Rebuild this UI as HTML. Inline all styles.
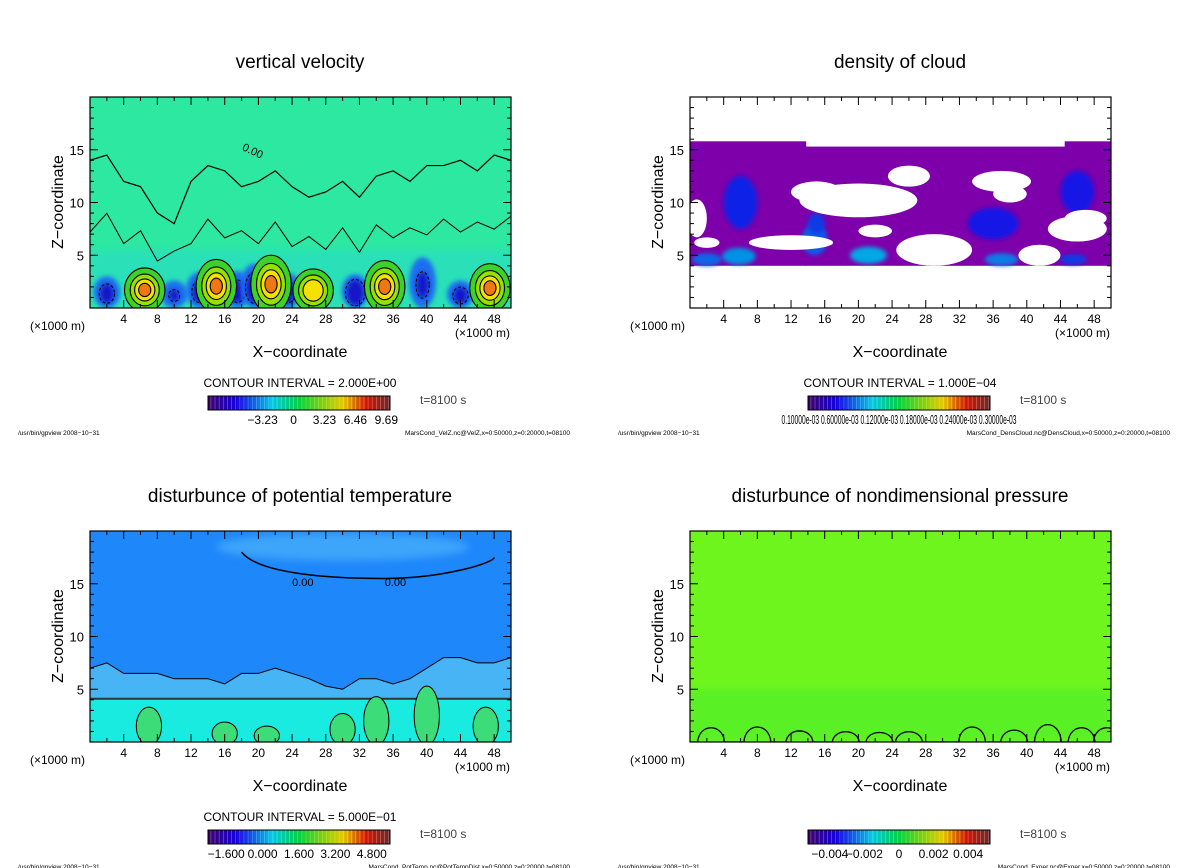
<!DOCTYPE html>
<html><head><meta charset="utf-8">
<style>
html,body{margin:0;padding:0;background:#fff;}
svg{display:block;font-family:"Liberation Sans","DejaVu Sans",sans-serif;}
</style></head>
<body>
<svg id="fig" width="1200" height="868" viewBox="0 0 1200 868"></svg>
<script>
// ---------- data ----------
const xTicks = [4,8,12,16,20,24,28,32,36,40,44,48];
const zTicks = [5,10,15];
// vertical velocity: updraft cores
const upX = [6.5,15,21.5,26.5,35,47.5];
const upTop = [3.8,4.6,5.0,3.7,4.5,4.2];
const upAmp = [0.8,1.0,0.9,0.75,0.9,0.9];
// downdraft cores
const downX = [2,10,13,17.5,19.5,23.5,31.5,39.5,44];
const downTop = [3,2.6,3.4,3.5,4.2,3.3,3.2,4.8,2.6];
const downAmp = [0.7,0.5,0.7,0.7,0.8,0.7,0.9,0.6,0.7];
// zero contour envelope of turbulent layer
const envX = [0,2,4,6,8,10,12,14,16,18,20,22,24,26,28,30,32,34,36,38,40,42,44,46,48,50];
const envZ = [14,14.5,12,11.5,9,8,12,13.5,13,11.5,12,13,11.5,10.5,11,12,10.5,12.5,13,12,13.5,13.5,14,13,14.5,14];
// cloud density: gaps in cloud layer (x, z, rx, rz)
const holeX = [0.8,20,15,37,38,46,47,12,29,41.5,26,2,22];
const holeZ = [8.5,10.2,11,12,10.8,7.5,8.5,6.2,5.5,5,12.5,6.2,7.3];
const holeRX = [1.2,7,3,3.5,2,3.5,2.5,5,4.5,2.5,2.5,1.5,2];
const holeRZ = [1.8,1.6,1,1,0.8,1.2,0.8,0.7,1.5,1,1,0.5,0.6];
// dense cloud patches (x, z, rx, rz, intensity)
const patchX = [2,5.8,14.8,21.2,37,45.5,6,46,36,15];
const patchZ = [4.6,4.9,6.5,5,4.6,4.6,10,11,8,8];
const patchRX = [1.8,2,1.5,2.2,2,1.6,2,2,3,1];
const patchRZ = [0.6,0.8,1.5,0.8,0.6,0.5,2.5,2,1.5,1];
const patchI = [0.6,0.8,0.55,0.9,0.7,0.4,0.3,0.25,0.25,0.4];
// potential temperature: boundary of disturbed layer
const ptX = [0,2,4,6,8,10,12,14,16,18,20,22,24,26,28,30,32,34,36,38,40,42,44,46,48,50];
const ptZ = [7,7.5,6.5,6.5,6.5,6,6,6,5.5,6.5,6.5,7,6.5,6,5.3,5,6,6,5.5,6,7,8,8,7.5,7.5,8];
const ptGreenX = [7,16,21,30,34,40,47];
const ptGreenZ = [1.5,0.8,0.6,1.2,2,2.5,1.5];
// nondimensional pressure: bottom bumps
const prX = [2.5,8,13,18.5,22.5,26,33.5,38.5,42.5,46.5,49.5];
const prH = [1.8,1.9,1.4,1.3,1.2,1.3,1.9,1.5,2.2,1.8,1.8];
// colorbar labels
const cb1Labels = ["\u22123.23","0","3.23","6.46","9.69"];
const cb2Labels = ["0.10000e-03 0.60000e-03 0.12000e-03 0.18000e-03 0.24000e-03 0.30000e-03"];
const cb3Labels = ["\u22121.600","0.000","1.600","3.200","4.800"];
const cb4Labels = ["\u22120.004","\u22120.002","0","0.002","0.004"];

const NS = "http://www.w3.org/2000/svg";
const svg = document.getElementById('fig');
function el(tag, attrs, parent, text){
  const e = document.createElementNS(NS, tag);
  for (const k in attrs) e.setAttribute(k, attrs[k]);
  if (text !== undefined) e.textContent = text;
  (parent||svg).appendChild(e);
  return e;
}
function cmap(t){
  const stops=[[0,[60,0,110]],[0.15,[20,0,230]],[0.35,[0,200,230]],[0.5,[0,210,60]],[0.65,[140,210,0]],[0.75,[230,200,0]],[0.88,[210,20,0]],[1,[120,40,40]]];
  t=Math.max(0,Math.min(1,t));
  for(let i=1;i<stops.length;i++){ if(t<=stops[i][0]){const a=stops[i-1],b=stops[i];const f=(t-a[0])/(b[0]-a[0]);
    const c=a[1].map((v,j)=>Math.round(v+(b[1][j]-v)*f)); return `rgb(${c[0]},${c[1]},${c[2]})`;}}
  return 'rgb(120,40,40)';
}

function panel(ox, oy, title, opts){
  const g = el('g',{},svg);
  
  
  const L=90+ox, R=511+ox, T=97+oy, B=308+oy;
  const sx = x => L + (x/50)*(R-L);
  const sz = z => B - (z/20)*(B-T);
  const clipId='clip'+opts.name;
  const cp=el('clipPath',{id:clipId},g); el('rect',{x:L,y:T,width:R-L,height:B-T},cp);
  const plot=el('g',{'clip-path':`url(#${clipId})`},g);
  
  
  opts.draw(plot, sx, sz, L, R, T, B);
  const fr=el('rect',{x:L,y:T,width:R-L,height:B-T,fill:'none',stroke:'#000','stroke-width':1.2},g);
  
  
  for(let x=2;x<50;x+=2){const major=x%4===0; const len=major?8:4;
    el('line',{x1:sx(x),x2:sx(x),y1:B,y2:B-len,stroke:'#000'},g);
    el('line',{x1:sx(x),x2:sx(x),y1:T,y2:T+len,stroke:'#000'},g);}
  for(let z=1;z<20;z++){const major=z%5===0; const len=major?8:4;
    el('line',{x1:L,x2:L+len,y1:sz(z),y2:sz(z),stroke:'#000'},g);
    el('line',{x1:R,x2:R-len,y1:sz(z),y2:sz(z),stroke:'#000'},g);}
  xTicks.forEach(v=>{const t=el('text',{x:sx(v),y:B+15,'font-size':12,'text-anchor':'middle'},g,String(v));
     });
  zTicks.forEach(v=>{const t=el('text',{x:L-6,y:sz(v)+5,'font-size':13,'text-anchor':'end'},g,String(v));
     });
  let t;
  t=el('text',{x:300+ox,y:68+oy,'font-size':19,'text-anchor':'middle'},g,title);
   
  t=el('text',{x:0,y:0,'font-size':16,'text-anchor':'middle',transform:`translate(${63+ox},${202+oy}) rotate(-90)`},g,'Z\u2212coordinate');
   
  t=el('text',{x:300+ox,y:357+oy,'font-size':16,'text-anchor':'middle'},g,'X\u2212coordinate');
   
  t=el('text',{x:30+ox,y:330+oy,'font-size':12},g,'(\u00d71000 m)');
   
  t=el('text',{x:455+ox,y:337+oy,'font-size':12},g,'(\u00d71000 m)');
   
  if(opts.ci){t=el('text',{x:300+ox,y:387+oy,'font-size':12,'text-anchor':'middle'},g,opts.ci);
     }
  t=el('text',{x:420+ox,y:404+oy,'font-size':12,fill:'#444'},g,'t=8100 s');
   
  const cbx=208+ox, cby=396+oy, cbw=182, cbh=14, n=44;
  const cb=el('g',{},g);  
  for(let i=0;i<n;i++){const w=cbw/n;
    el('rect',{x:cbx+i*w,y:cby,width:w+0.3,height:cbh,fill:cmap(i/(n-1))},cb);
    el('line',{x1:cbx+i*w+w*0.7,x2:cbx+i*w+w*0.7,y1:cby,y2:cby+cbh,stroke:'rgba(255,255,255,0.35)','stroke-width':0.7},cb);}
  el('rect',{x:cbx,y:cby,width:cbw,height:cbh,fill:'none',stroke:'#000'},cb);
  const labs=opts.cbLabels;
  if(labs.length===1){ t=el('text',{x:cbx+cbw/2,y:cby+28,'font-size':13,'text-anchor':'middle',textLength:235,lengthAdjust:'spacingAndGlyphs'},cb,labs[0]);
     }
  else labs.forEach((s,i)=>{const px=cbx+(opts.cbStart||0.2)*cbw+i*(opts.cbStep||0.2)*cbw;
    t=el('text',{x:px,y:cby+28,'font-size':12,'text-anchor':'middle'},cb,s);
     });
  t=el('text',{x:18+ox,y:435+oy,'font-size':6.5},g,'/usr/bin/gpview   2008\u221210\u221231');
   
  t=el('text',{x:570+ox,y:435+oy,'font-size':6.5,'text-anchor':'end'},g,opts.footer);
   
}

function blurDef(id, sd){const f=el('filter',{id:id,x:'-50%',y:'-50%',width:'200%',height:'200%'});el('feGaussianBlur',{stdDeviation:sd},f);}
blurDef('b2',2); blurDef('b4',4);

// Panel 1: vertical velocity
panel(0,0,'vertical velocity',{name:'panel-vertical-velocity',ci:'CONTOUR INTERVAL = 2.000E+00',cbLabels:cb1Labels,cbStart:0.3,cbStep:0.17,
 footer:'MarsCond_VelZ.nc@VelZ,x=0:50000,z=0:20000,t=08100',
 draw:(p,sx,sz,L,R,T,B)=>{
  el('rect',{x:L,y:T,width:R-L,height:B-T,fill:'rgb(45,232,160)'},p);
  el('rect',{x:L,y:sz(5.5),width:R-L,height:sz(0)-sz(5.5),fill:'rgb(40,215,215)',opacity:0.45,filter:'url(#b4)'},p);
  let d='M'+envX.map((x,i)=>`${sx(x)},${sz(envZ[i])}`).join(' L');
  el('path',{d:d,fill:'none',stroke:'#000','stroke-width':1.2},p);
  d='M'+envX.map((x,i)=>`${sx(x)},${sz(envZ[i]*0.55+ (i%2?1:-0.5))}`).join(' L');
  el('path',{d:d,fill:'none',stroke:'#000','stroke-width':1},p);
  downX.forEach((x,i)=>{const h=downTop[i], a=downAmp[i];
    el('ellipse',{cx:sx(x),cy:sz(h/2),rx:sx(1.6)-sx(0),ry:sz(0)-sz(h/2),fill:'rgb(30,110,240)',filter:'url(#b2)'},p);
    el('ellipse',{cx:sx(x),cy:sz(h/2.2),rx:(sx(1.1)-sx(0))*a,ry:(sz(0)-sz(h/2.4))*a,fill:'rgb(20,20,200)',filter:'url(#b2)'},p);
    el('ellipse',{cx:sx(x),cy:sz(h/2.2),rx:(sx(1.3)-sx(0))*a,ry:(sz(0)-sz(h/2.3))*a,fill:'none',stroke:'#000','stroke-dasharray':'3 2'},p);
  });
  upX.forEach((x,i)=>{const h=upTop[i], a=upAmp[i];
    const cols=['rgb(60,210,40)','rgb(150,225,0)','rgb(245,225,0)','rgb(240,120,20)'];
    [1,0.72,0.5,0.3].forEach((s,k)=>{ if(k===3&&a<0.8) return;
      const e=el('ellipse',{cx:sx(x),cy:sz(h*0.45),rx:(sx(2.4)-sx(0))*s,ry:(sz(0)-sz(h*0.55))*s,fill:cols[k],stroke:'#000','stroke-width':1.1},p);
       });
  });
  el('text',{x:sx(18),y:sz(15),'font-size':11,transform:`rotate(25 ${sx(18)} ${sz(15)})`},p,'0.00');
 }});

// Panel 2: density of cloud
panel(600,0,'density of cloud',{name:'panel-density-of-cloud',ci:'CONTOUR INTERVAL = 1.000E\u221204',cbLabels:cb2Labels,
 footer:'MarsCond_DensCloud.nc@DensCloud,x=0:50000,z=0:20000,t=08100',
 draw:(p,sx,sz,L,R,T,B)=>{
  el('rect',{x:L,y:T,width:R-L,height:B-T,fill:'#fff'},p);
  el('rect',{x:sx(0),y:sz(15.8),width:sx(13.8)-sx(0),height:sz(4)-sz(15.8),fill:'rgb(125,0,170)'},p);
  el('rect',{x:sx(13.7),y:sz(15.3),width:sx(44.6)-sx(13.7),height:sz(4)-sz(15.3),fill:'rgb(125,0,170)'},p);
  el('rect',{x:sx(44.5),y:sz(15.8),width:sx(50)-sx(44.5),height:sz(4)-sz(15.8),fill:'rgb(125,0,170)'},p);
  patchX.forEach((x,i)=>{const e=el('ellipse',{cx:sx(x),cy:sz(patchZ[i]),rx:sx(patchRX[i])-sx(0),ry:sz(0)-sz(patchRZ[i]),fill:cmap(0.12+patchI[i]*0.22),filter:'url(#b2)'},p);
     });
  holeX.forEach((x,i)=>{const e=el('ellipse',{cx:sx(x),cy:sz(holeZ[i]),rx:sx(holeRX[i])-sx(0),ry:sz(0)-sz(holeRZ[i]),fill:'#fff'},p);
     });
 }});

// Panel 3: potential temperature
panel(0,434,'disturbunce of potential temperature',{name:'panel-potential-temperature',ci:'CONTOUR INTERVAL = 5.000E\u221201',cbLabels:cb3Labels,cbStart:0.1,cbStep:0.2,
 footer:'MarsCond_PotTemp.nc@PotTempDist,x=0:50000,z=0:20000,t=08100',
 draw:(p,sx,sz,L,R,T,B)=>{
  el('rect',{x:L,y:T,width:R-L,height:B-T,fill:'rgb(30,135,250)'},p);
  el('ellipse',{cx:sx(30),cy:sz(18.5),rx:sx(15)-sx(0),ry:sz(0)-sz(1.3),fill:'rgb(60,165,250)',filter:'url(#b4)'},p);
  let d='M'+sx(0)+','+sz(4.1)+' L'+ptX.map((x,i)=>`${sx(x)},${sz(ptZ[i])}`).join(' L')+` L${sx(50)},${sz(4.1)} Z`;
  el('path',{d:d,fill:'rgb(70,180,245)',stroke:'#000','stroke-width':1},p);
  el('rect',{x:L,y:sz(4.1),width:R-L,height:B-sz(4.1),fill:'rgb(25,235,225)'},p);
  el('line',{x1:L,x2:R,y1:sz(4.1),y2:sz(4.1),stroke:'#333','stroke-width':2},p);
  ptGreenX.forEach((x,i)=>{const e=el('ellipse',{cx:sx(x),cy:sz(ptGreenZ[i]),rx:sx(1.5)-sx(0),ry:sz(0)-sz(ptGreenZ[i]+0.3),fill:'rgb(60,220,120)',stroke:'#000','stroke-width':1},p);
     });
  d=`M${sx(18)},${sz(18)} C${sx(20)},${sz(16)} ${sx(28)},${sz(15.5)} ${sx(35)},${sz(15.5)} S${sx(48)},${sz(17)} ${sx(48)},${sz(17.5)}`;
  el('path',{d:d,fill:'none',stroke:'#000','stroke-width':1.5},p);
  el('text',{x:sx(24),y:sz(14.8),'font-size':11},p,'0.00');
  el('text',{x:sx(35),y:sz(14.8),'font-size':11},p,'0.00');
 }});

// Panel 4: pressure
panel(600,434,'disturbunce of nondimensional pressure',{name:'panel-pressure',cbLabels:cb4Labels,cbStart:0.12,cbStep:0.19,
 footer:'MarsCond_Exner.nc@Exner,x=0:50000,z=0:20000,t=08100',
 draw:(p,sx,sz,L,R,T,B)=>{
  el('rect',{x:L,y:T,width:R-L,height:B-T,fill:'rgb(110,245,30)'},p);
  el('rect',{x:L,y:sz(5),width:R-L,height:B-sz(5),fill:'rgb(90,240,40)',filter:'url(#b4)'},p);
  let d=`M${sx(0)},${sz(0)}`;
  prX.forEach((x,i)=>{d+=` L${sx(x-1.6)},${sz(0)} C${sx(x-1.4)},${sz(prH[i])} ${sx(x+1.4)},${sz(prH[i])} ${sx(x+1.6)},${sz(0)}`;});
  el('path',{d:d,fill:'none',stroke:'#000','stroke-width':1.3},p);
 }});
</script>
</body></html>
